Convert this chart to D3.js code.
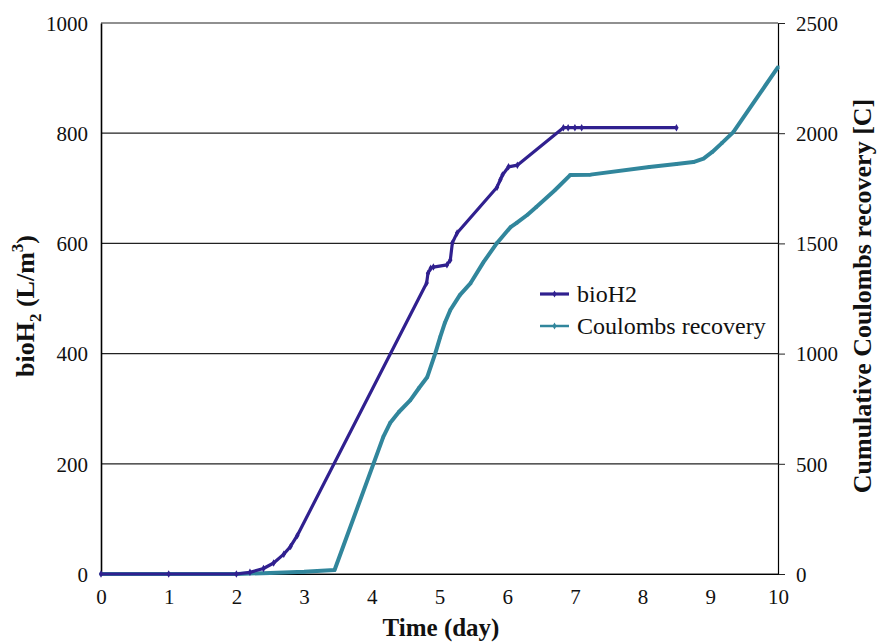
<!DOCTYPE html>
<html>
<head>
<meta charset="utf-8">
<script src="https://cdn.jsdelivr.net/npm/d3@7/dist/d3.min.js"></script>
<style>
  body { margin: 0; background: #fff; }
  svg text { font-family: "Liberation Serif", "Times New Roman", serif; fill: #111; }
</style>
</head>
<body>
<div id="chart"></div>
<script>
// bioH2 (left axis, L/m3)
var bioDays = [0, 1, 2, 2.2, 2.4, 2.55, 2.7, 2.8, 2.9, 4.81, 4.83, 4.87, 4.91, 5.11, 5.16, 5.19, 5.26, 5.85, 5.9, 5.93, 6.02, 6.15, 6.83, 6.9, 7.0, 7.1, 8.5];
var bioValues = [0, 0, 0, 3, 10, 20, 36, 50, 70, 528, 546, 555, 557, 561, 570, 601, 619, 702, 716, 724, 739, 742, 810, 810, 810, 810, 810];

// Cumulative Coulombs recovery (right axis, C)
var coulDays = [0, 1, 2, 2.5, 3, 3.45, 4.17, 4.27, 4.4, 4.57, 4.7, 4.82, 4.94, 5.01, 5.08, 5.16, 5.3, 5.46, 5.65, 5.85, 6.05, 6.14, 6.3, 6.43, 6.7, 6.93, 7.23, 8.1, 8.5, 8.75, 8.9, 9.03, 9.17, 9.34, 10];
var coulValues = [0, 0, 0, 5, 10, 18, 622, 685, 735, 789, 845, 894, 1003, 1075, 1140, 1198, 1265, 1320, 1415, 1502, 1574, 1593, 1630, 1665, 1740, 1810, 1812, 1847, 1860, 1869, 1885, 1915, 1955, 2005, 2300];

var xTicks = [0, 1, 2, 3, 4, 5, 6, 7, 8, 9, 10];
var leftTicks = [0, 200, 400, 600, 800, 1000];
var rightTicks = [0, 500, 1000, 1500, 2000, 2500];
var seriesNames = ["bioH2", "Coulombs recovery"];

var attrs = {
  svgWidth: 877,
  svgHeight: 644,
  marginTop: 23,
  marginLeft: 101,
  marginRight: 99,
  marginBottom: 70,
  bioColor: "#30208f",
  coulColor: "#31869c"
};

var calc = {};
calc.chartWidth = attrs.svgWidth - attrs.marginLeft - attrs.marginRight;
calc.chartHeight = attrs.svgHeight - attrs.marginTop - attrs.marginBottom;

var svg = d3.select("#chart").append("svg")
  .attr("width", attrs.svgWidth)
  .attr("height", attrs.svgHeight);

var chart = svg.append("g")
  .attr("transform", "translate(" + attrs.marginLeft + "," + attrs.marginTop + ")");

var x = d3.scaleLinear().domain([0, 10]).range([0, calc.chartWidth]);
var yLeft = d3.scaleLinear().domain([0, 1000]).range([calc.chartHeight, 0]);
var yRight = d3.scaleLinear().domain([0, 2500]).range([calc.chartHeight, 0]);

var fmt = d3.format("d");

// gridlines
chart.append("g")
  .selectAll("line")
  .data(leftTicks)
  .enter().append("line")
  .attr("x1", 0).attr("x2", calc.chartWidth)
  .attr("y1", function (d) { return yLeft(d); })
  .attr("y2", function (d) { return yLeft(d); })
  .attr("stroke", "#222")
  .attr("stroke-width", 1.2);

// left axis
var leftAxis = chart.append("g")
  .call(d3.axisLeft(yLeft).tickValues(leftTicks).tickFormat(fmt).tickSize(0).tickPadding(13));
leftAxis.select(".domain").attr("stroke", "#000").attr("stroke-width", 1.6);
leftAxis.selectAll("text").style("font-size", "21px").attr("dy", "0.35em");

// right axis
var rightAxis = chart.append("g")
  .attr("transform", "translate(" + calc.chartWidth + ",0)")
  .call(d3.axisRight(yRight).tickValues(rightTicks).tickFormat(fmt).tickSize(7).tickSizeOuter(0).tickPadding(11));
rightAxis.select(".domain").attr("stroke", "#000").attr("stroke-width", 1.2);
rightAxis.selectAll(".tick line").attr("stroke", "#222");
rightAxis.selectAll("text").style("font-size", "21px").attr("dy", "0.35em");

// bottom axis
var bottomAxis = chart.append("g")
  .attr("transform", "translate(0," + calc.chartHeight + ")")
  .call(d3.axisBottom(x).tickValues(xTicks).tickFormat(fmt).tickSize(0).tickPadding(15));
bottomAxis.select(".domain").attr("stroke", "#000").attr("stroke-width", 1.2);
bottomAxis.selectAll("text").style("font-size", "21px");

// lines
var bioData = bioDays.map(function (d, i) { return { day: d, value: bioValues[i] }; });
var coulData = coulDays.map(function (d, i) { return { day: d, value: coulValues[i] }; });

var bioLine = d3.line()
  .x(function (d) { return x(d.day); })
  .y(function (d) { return yLeft(d.value); });

var coulLine = d3.line()
  .x(function (d) { return x(d.day); })
  .y(function (d) { return yRight(d.value); });

chart.append("path")
  .datum(coulData)
  .attr("d", coulLine)
  .attr("fill", "none")
  .attr("stroke", attrs.coulColor)
  .attr("stroke-width", 4)
  .attr("stroke-linejoin", "round");

chart.append("g").selectAll("rect")
  .data(coulData)
  .enter().append("rect")
  .attr("x", function (d) { return x(d.day) - 1.5; })
  .attr("y", function (d) { return yRight(d.value) - 1.5; })
  .attr("width", 3).attr("height", 3)
  .attr("fill", attrs.coulColor);

chart.append("path")
  .datum(bioData)
  .attr("d", bioLine)
  .attr("fill", "none")
  .attr("stroke", attrs.bioColor)
  .attr("stroke-width", 3.2)
  .attr("stroke-linejoin", "round");

chart.append("g").selectAll("path")
  .data(bioData)
  .enter().append("path")
  .attr("d", d3.symbol().type(d3.symbolDiamond).size(16))
  .attr("transform", function (d) { return "translate(" + x(d.day) + "," + yLeft(d.value) + ")"; })
  .attr("fill", attrs.bioColor);

// legend
var legend = svg.append("g").attr("transform", "translate(540,294)");
var legendColors = [attrs.bioColor, attrs.coulColor];
var legendWidths = [3.2, 2.5];
seriesNames.forEach(function (name, i) {
  var row = legend.append("g").attr("transform", "translate(0," + (i * 32) + ")");
  row.append("line")
    .attr("x1", 0).attr("x2", 29)
    .attr("stroke", legendColors[i])
    .attr("stroke-width", legendWidths[i]);
  row.append("path")
    .attr("d", d3.symbol().type(d3.symbolDiamond).size(14))
    .attr("transform", "translate(14.5,0)")
    .attr("fill", legendColors[i]);
  row.append("text")
    .attr("x", 37).attr("dy", "0.35em")
    .style("font-size", "24px")
    .text(name);
});

// axis titles
var leftTitle = svg.append("text")
  .attr("transform", "translate(34,306) rotate(-90)")
  .attr("text-anchor", "middle")
  .style("font-size", "26px")
  .style("font-weight", "bold");
leftTitle.append("tspan").text("bioH");
leftTitle.append("tspan").attr("dy", 7).style("font-size", "17px").text("2");
leftTitle.append("tspan").attr("dy", -7).text(" (L/m");
leftTitle.append("tspan").attr("dy", -11).style("font-size", "17px").text("3");
leftTitle.append("tspan").attr("dy", 11).text(")");

svg.append("text")
  .attr("transform", "translate(871,296) rotate(-90)")
  .attr("text-anchor", "middle")
  .style("font-size", "26px")
  .style("font-weight", "bold")
  .text("Cumulative Coulombs recovery [C]");

svg.append("text")
  .attr("x", 441).attr("y", 636)
  .attr("text-anchor", "middle")
  .style("font-size", "25px")
  .style("font-weight", "bold")
  .text("Time (day)");
</script>
</body>
</html>
